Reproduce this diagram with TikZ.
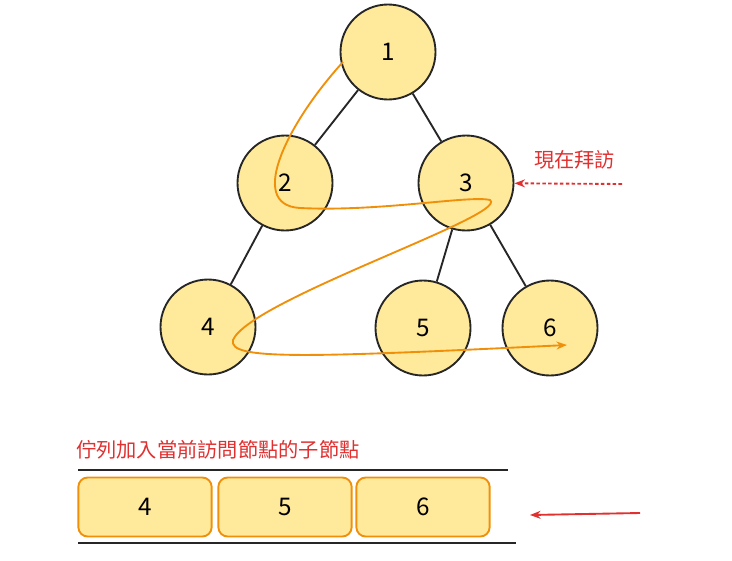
\documentclass[tikz,border=0pt]{standalone}
\usepackage{fontspec}
\setmainfont{Noto Sans CJK TC}
\usetikzlibrary{arrows.meta}
\definecolor{nodefill}{HTML}{FFE99A}
\definecolor{pathorange}{HTML}{F0900A}
\definecolor{labelred}{HTML}{E03030}
\tikzset{
  tnode/.style={circle,draw=black!85,line width=1.6pt,fill=nodefill,minimum size=2.85cm,font=\huge},
  qbox/.style={rounded corners=8pt,draw=pathorange,line width=1.6pt,fill=nodefill,minimum width=4cm,minimum height=1.77cm,font=\huge},
  redtext/.style={text=labelred,font=\LARGE}
}
\begin{document}
\begin{tikzpicture}[x=0.03cm,y=-0.03cm]
                \useasboundingbox (0,0) rectangle (732,560);
                % tree
                \node[tnode] (n1) at (388,52) {1};
                \node[tnode] (n2) at (285,183) {2};
                \node[tnode] (n3) at (466,183) {3};
                \node[tnode] (n4) at (208,327) {4};
                \node[tnode] (n5) at (423,328) {5};
                \node[tnode] (n6) at (550,328) {6};
                \foreach \a/\b in {n1/n2,n1/n3,n2/n4,n3/n5,n3/n6}
                {
                    \draw[line width=1.6pt,black!85] (\a) -- (\b);
                }
                % visiting order
                \coordinate (s) at (343,62);
                \coordinate (e) at (567,345);
                \draw[pathorange,line width=1.6pt,-{Stealth[length=9pt]}] (s) .. controls (290,120) and (245,205) .. (300,208)
                    .. controls (380,212) and (470,195) .. (490,200)
                    .. controls (510,215) and (250,300) .. (233,340)
                    .. controls (228,360) and (300,358) .. (e);
                \node[redtext,anchor=west] (now) at (530,160) {現在拜訪};
                \coordinate (a1) at (622,184);
                \draw[labelred,line width=1.6pt,densely dashed,-{Stealth[length=9pt]}] (a1) -- (n3);
                % queue
                \node[redtext,anchor=west] (qlabel) at (72,450) {佇列加入當前訪問節點的子節點};
                \coordinate (t1) at (78,470);
                \coordinate (t2) at (508,470);
                \coordinate (b1) at (78,543);
                \coordinate (b2) at (516,543);
                \draw[line width=1.6pt,black!85] (t1) -- (t2);
                \draw[line width=1.6pt,black!85] (b1) -- (b2);
                \node[qbox] (q4) at (145,507) {4};
                \node[qbox] (q5) at (285,507) {5};
                \node[qbox] (q6) at (423,507) {6};
                \coordinate (a2) at (640,513);
                \coordinate (a3) at (530,515);
                \draw[labelred,line width=1.6pt,-{Stealth[length=9pt]}] (a2) -- (a3);
            \end{tikzpicture}
\end{document}
